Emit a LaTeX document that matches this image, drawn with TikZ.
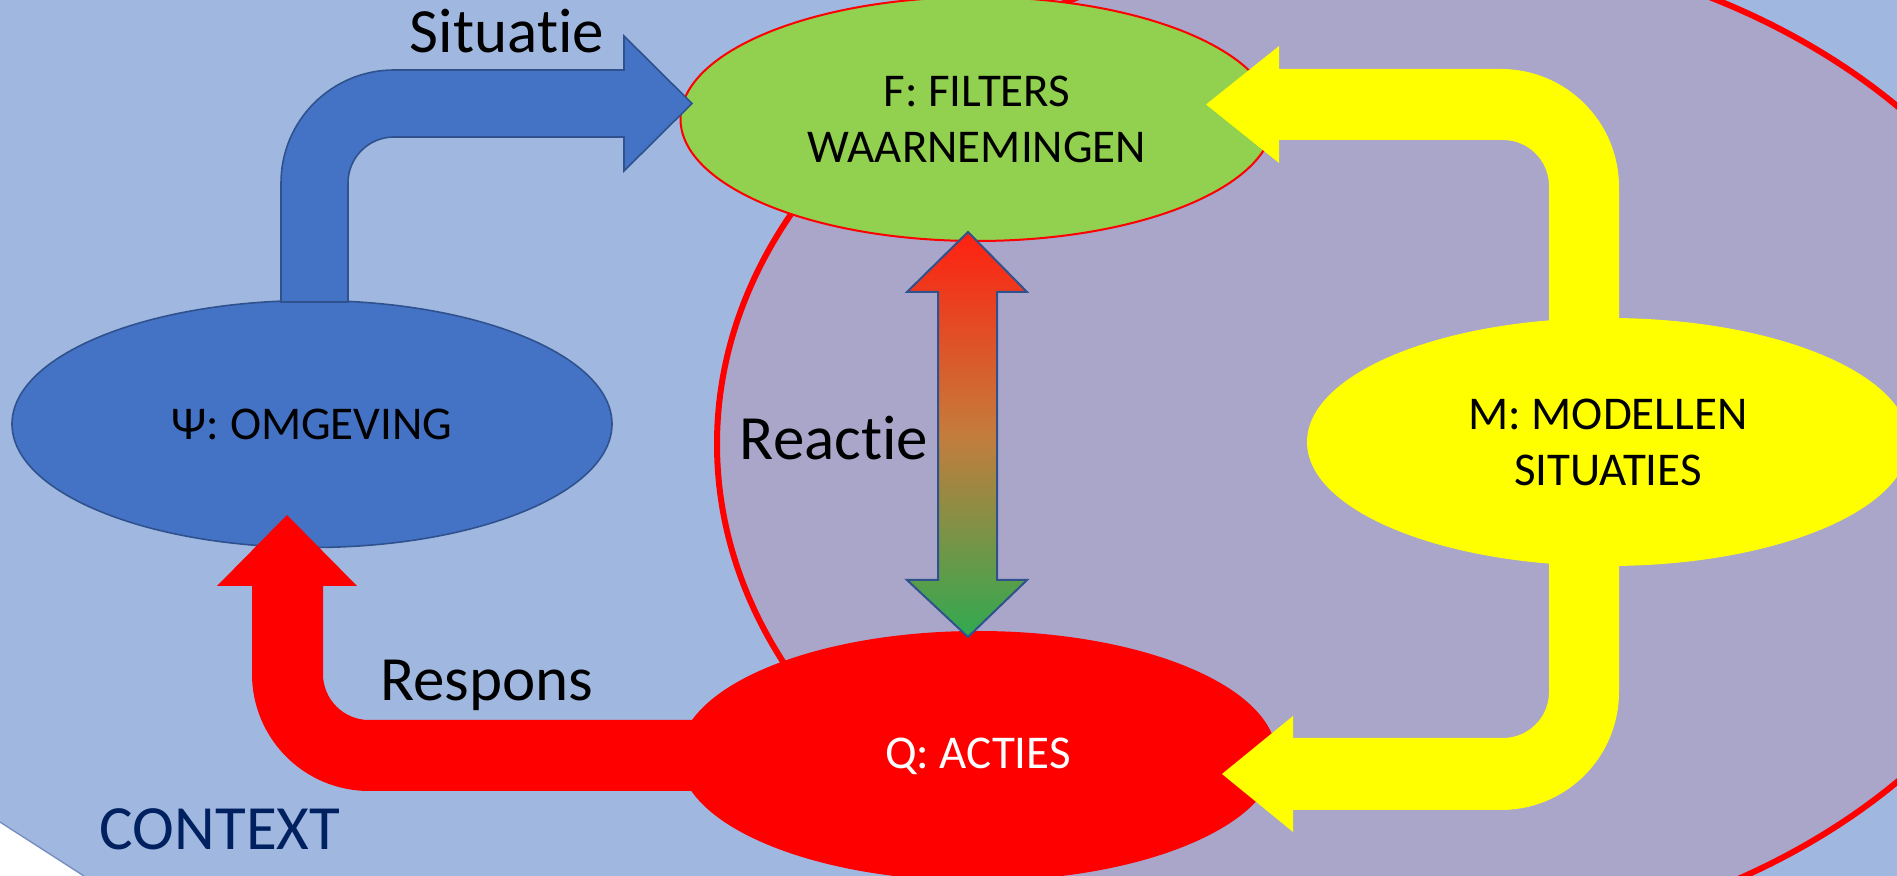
\documentclass[tikz,border=0pt]{standalone}
\usepackage{fontspec}
\setmainfont{Carlito}[Ligatures=NoCommon]
\usetikzlibrary{shapes.geometric}
\definecolor{bgblue}{RGB}{160,184,224}
\definecolor{purp}{RGB}{169,166,202}
\definecolor{accblue}{HTML}{4472C4}
\definecolor{darkblue}{HTML}{2F528F}
\definecolor{lgreen}{HTML}{92D050}
\definecolor{navy}{HTML}{002060}
\definecolor{pureyellow}{RGB}{255,255,0}
\definecolor{edgeblue}{RGB}{120,142,192}
\definecolor{gradtop}{RGB}{255,32,16}
\definecolor{gradmid}{RGB}{196,124,60}
\definecolor{gradbot}{RGB}{48,170,80}
\begin{document}
\begin{tikzpicture}[x=0.5pt,y=-0.5pt,
  ell/.style={ellipse, inner sep=0pt, font=\fontsize{23.5}{28}\selectfont, align=center},
  biglabel/.style={font=\fontsize{31.5}{36}\selectfont, anchor=base, inner sep=0pt},
  fatarrow/.style={line join=miter},
]
\useasboundingbox (0,0) rectangle (1897,876);
% context background
\fill[bgblue] (0,0) rectangle (1897,876);
\fill[white] (0,822) .. controls (28,840) and (56,858) .. (84,876) -- (0,876) -- cycle;
\draw[edgeblue, line width=0.7pt] (0,822) .. controls (28,840) and (56,858) .. (84,876);
% inner system ellipse
\node[ellipse, draw=red, line width=3pt, fill=purp, inner sep=0pt,
      minimum width=677pt, minimum height=505pt] (sys) at (1394,444) {};
% main ellipses
\node[ell, fill=accblue, draw=darkblue, line width=0.8pt,
      minimum width=300pt, minimum height=123.5pt] (psi) at (312,424) {Ψ: OMGEVING};
\node[ell, fill=lgreen, draw=red, line width=1pt,
      minimum width=296.5pt, minimum height=122pt] (F) at (977,119) {F: FILTERS\\WAARNEMINGEN};
\node[ell, fill=pureyellow,
      minimum width=301pt, minimum height=124pt] (M) at (1608,442) {M: MODELLEN\\SITUATIES};
\node[ell, fill=red, text=white,
      minimum width=298.5pt, minimum height=125pt] (Q) at (978,756) {Q: ACTIES};
% Situatie arrow (psi -> F)
\path[fatarrow, fill=accblue, draw=darkblue, line width=0.8pt]
  (281,302) -- (281,183) .. controls (281,120.6) and (331.6,70) .. (394,70)
  -- (624,70) -- (624,36) -- (692,103.5) -- (624,171) -- (624,137) -- (394,137)
  .. controls (368.6,137) and (348,157.6) .. (348,183) -- (348,302) -- cycle;
% M -> F arrow
\path[fatarrow, fill=pureyellow]
  (1619,350) -- (1619,187) .. controls (1619,121.8) and (1566.2,69) .. (1501,69)
  -- (1279,69) -- (1279,46) -- (1206,104.5) -- (1279,163) -- (1279,140) -- (1503,140)
  .. controls (1528.4,140) and (1549,160.6) .. (1549,186) -- (1549,350) -- cycle;
% M -> Q arrow
\path[fatarrow, fill=pureyellow]
  (1619,530) -- (1619,692) .. controls (1619,757.2) and (1566.2,810) .. (1501,810)
  -- (1293,810) -- (1293,832) -- (1222,774) -- (1293,716) -- (1293,738) -- (1503,738)
  .. controls (1528.4,738) and (1549,717.4) .. (1549,692) -- (1549,530) -- cycle;
% Respons arrow (Q -> psi)
\path[fatarrow, fill=red]
  (740,720) -- (369,720) .. controls (343.6,720) and (323,699.4) .. (323,674)
  -- (323,586) -- (357,586) -- (287,515) -- (217,586) -- (252,586) -- (252,674)
  .. controls (252,738.6) and (304.4,791) .. (369,791) -- (740,791) -- cycle;
% Reactie double arrow (F <-> Q)
\path[fatarrow, draw=darkblue, line width=1pt, top color=gradtop, bottom color=gradbot, middle color=gradmid]
  (968,232) -- (1027,292) -- (997,292) -- (997,580) -- (1027,580) -- (968,637)
  -- (907,580) -- (938,580) -- (938,292) -- (907,292) -- cycle;
% labels
\node[biglabel] (lsit) at (507,53) {Situatie};
\node[biglabel] (lrea) at (834,460) {Reactie};
\node[biglabel] (lres) at (487,701) {Respons};
\node[biglabel, text=navy] (lctx) at (220,849) {CONTEXT};
\end{tikzpicture}
\end{document}
